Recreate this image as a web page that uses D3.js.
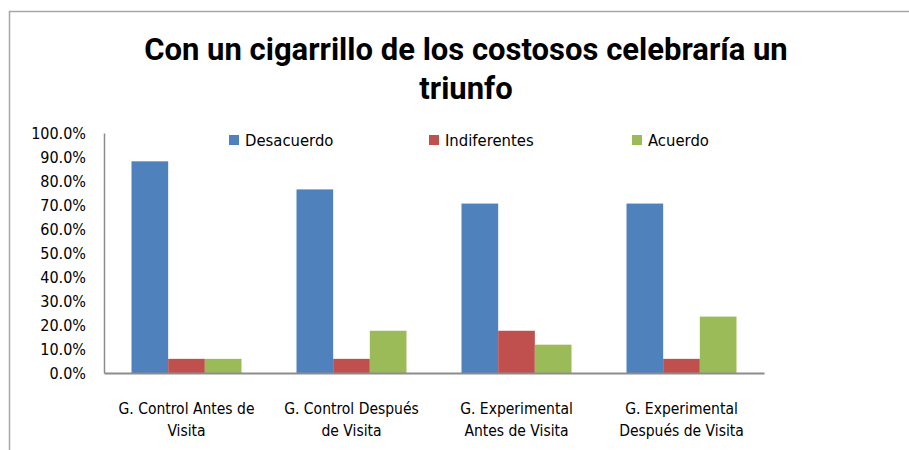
<!DOCTYPE html>
<html>
<head>
<meta charset="utf-8">
<script src="https://cdn.jsdelivr.net/npm/d3@7"></script>
<style>
  body { margin: 0; background: #fff; }
  text { font-family: "DejaVu Sans Condensed", sans-serif; fill: #000; }
</style>
</head>
<body>
<div id="chart"></div>
<script>
// data
var categories = [
  ["G. Control Antes de", "Visita"],
  ["G. Control Después", "de Visita"],
  ["G. Experimental", "Antes de Visita"],
  ["G. Experimental", "Después de Visita"]
];
var seriesNames = ["Desacuerdo", "Indiferentes", "Acuerdo"];
var seriesColors = ["#4f81bd", "#c0504d", "#9bbb59"];
var desacuerdo = [88.2, 76.5, 70.6, 70.6];
var indiferentes = [5.9, 5.9, 17.6, 5.9];
var acuerdo = [5.9, 17.6, 11.8, 23.5];
var yTicks = [0, 10, 20, 30, 40, 50, 60, 70, 80, 90, 100];

var svgWidth = 909;
var svgHeight = 450;
var margin = { top: 133, right: 145, bottom: 77, left: 104 };
var width = svgWidth - margin.left - margin.right;
var height = svgHeight - margin.top - margin.bottom;

var svg = d3.select("#chart")
  .append("svg")
  .attr("width", svgWidth)
  .attr("height", svgHeight);

// outer chart frame (right and bottom edges fall outside the picture)
svg.append("rect")
  .attr("x", 9.5)
  .attr("y", 11.5)
  .attr("width", 1000)
  .attr("height", 1000)
  .attr("fill", "none")
  .attr("stroke", "#a6a6a6")
  .attr("stroke-width", 1.5);

// title
var title = svg.append("text")
  .attr("text-anchor", "middle")
  .style("font-family", "Roboto, sans-serif")
  .style("font-weight", "bold")
  .style("font-size", "31px");
title.append("tspan").attr("x", 466).attr("y", 60).text("Con un cigarrillo de los costosos celebraría un");
title.append("tspan").attr("x", 466).attr("y", 99).text("triunfo");

var chartGroup = svg.append("g")
  .attr("transform", `translate(${margin.left}, ${margin.top})`);

var x0 = d3.scaleBand()
  .domain(d3.range(categories.length))
  .range([0, width]);

// bar width = group / 4.5 (gap 150%)
var barW = x0.bandwidth() / 4.5;
var x1 = d3.scaleBand()
  .domain(seriesNames)
  .range([barW * 0.75, barW * 3.75]);

var y = d3.scaleLinear()
  .domain([0, 100])
  .range([height, 0]);

var rows = categories.map(function(c, i) {
  return [desacuerdo[i], indiferentes[i], acuerdo[i]];
});

var groups = chartGroup.selectAll(".grp")
  .data(rows)
  .enter()
  .append("g")
  .attr("transform", (d, i) => `translate(${x0(i)}, 0)`);

groups.selectAll("rect")
  .data(d => d.map((v, k) => ({ name: seriesNames[k], value: v, color: seriesColors[k] })))
  .enter()
  .append("rect")
  .attr("x", d => x1(d.name))
  .attr("y", d => y(d.value))
  .attr("width", x1.bandwidth())
  .attr("height", d => height - y(d.value))
  .attr("fill", d => d.color);

// y axis
var yAxis = d3.axisLeft(y)
  .tickValues(yTicks)
  .tickSize(0)
  .tickPadding(18)
  .tickFormat(d => d.toFixed(1) + "%");

var yG = chartGroup.append("g").call(yAxis);
yG.select(".domain").attr("stroke", "#8c8c8c").attr("stroke-width", 1.5);
yG.selectAll("text").style("font-size", "16px")
  .style("font-family", "'DejaVu Sans Condensed', sans-serif");

// x axis
var xAxis = d3.axisBottom(x0).tickSize(0).tickFormat("");
var xG = chartGroup.append("g")
  .attr("transform", `translate(0, ${height})`)
  .call(xAxis);
xG.select(".domain").attr("stroke", "#8c8c8c").attr("stroke-width", 2);

// category labels, two lines
chartGroup.selectAll(".cat")
  .data(categories)
  .enter()
  .append("text")
  .attr("class", "cat")
  .attr("text-anchor", "middle")
  .style("font-size", "15.5px")
  .each(function(d, i) {
    var t = d3.select(this);
    var cx = x0(i) + x0.bandwidth() / 2;
    t.append("tspan").attr("x", cx).attr("y", height + 41).text(d[0]);
    t.append("tspan").attr("x", cx).attr("y", height + 63).text(d[1]);
  });

// legend
var legendX = [229, 429, 632];
var legend = svg.selectAll(".leg")
  .data(seriesNames)
  .enter()
  .append("g")
  .attr("transform", (d, i) => `translate(${legendX[i]}, 135)`);

legend.append("rect")
  .attr("width", 10)
  .attr("height", 10)
  .attr("fill", (d, i) => seriesColors[i]);

legend.append("text")
  .attr("x", 16)
  .attr("y", 11)
  .style("font-size", "16.5px")
  .text(d => d);
</script>
</body>
</html>
